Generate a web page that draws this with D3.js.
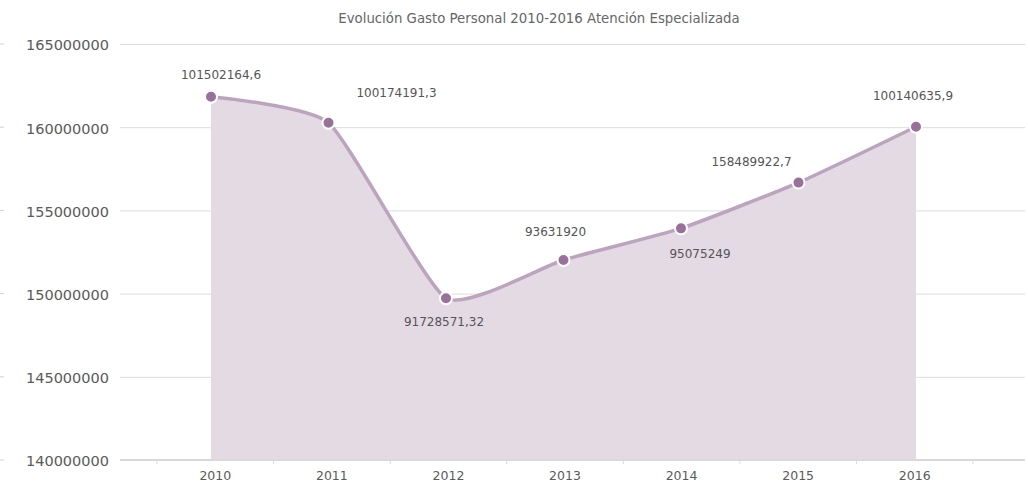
<!DOCTYPE html>
<html>
<head>
<meta charset="utf-8">
<script src="https://cdn.jsdelivr.net/npm/d3@7"></script>
<style>
  body { margin: 0; background: #fff; }
  svg { display: block; }
  text { font-family: "DejaVu Sans", sans-serif; }
</style>
</head>
<body>
<svg id="chart" width="1028" height="484"></svg>
<script>
// Gasto de personal, Atención Especializada
const years = ["2010", "2011", "2012", "2013", "2014", "2015", "2016"];
const gasto = [161830000, 160270000, 149720000, 152020000, 153920000, 156670000, 160030000];
const pointLabels = ["101502164,6", "100174191,3", "91728571,32", "93631920", "95075249", "158489922,7", "100140635,9"];
const yTicks = [140000000, 145000000, 150000000, 155000000, 160000000, 165000000];
const chartTitle = "Evolución Gasto Personal 2010-2016 Atención Especializada";

// where each value label sits relative to its marker: [dx, dy to baseline]
const labelPlacement = [[10, -18], [68, -26], [-2, 28], [-8, -24], [19, 30], [-47, -17], [-3, -27]];

const svg = d3.select("#chart");
const plotLeft = 120, plotRight = 1025, plotTop = 44, plotBottom = 460;

const x = d3.scalePoint().domain(years).range([211, 916]);
const xBand = d3.scaleBand().domain(years).range([157, 973]);
const y = d3.scaleLinear().domain([140000000, 165000000]).range([plotBottom, plotTop]);

// title
svg.append("text")
  .attr("x", 539).attr("y", 22.5)
  .attr("text-anchor", "middle")
  .attr("font-size", 13.3)
  .attr("fill", "#666")
  .text(chartTitle);

// y axis with gridlines
const yAxis = svg.append("g")
  .attr("transform", `translate(${plotLeft},0)`)
  .call(d3.axisLeft(y).tickValues(yTicks).tickSize(-(plotRight - plotLeft)).tickPadding(11).tickFormat(d3.format("d")));
yAxis.select(".domain").remove();
yAxis.selectAll(".tick line").attr("stroke", "#dcdcdc").attr("stroke-width", 1);
yAxis.selectAll(".tick text")
  .attr("font-size", 14.5)
  .attr("fill", "#5a5a5a")
  .attr("dy", "0.4em")
  .style("font-family", "'DejaVu Sans', sans-serif");

// short marks at the far left edge
svg.append("g").selectAll("line").data(yTicks).join("line")
  .attr("x1", 0).attr("x2", 4)
  .attr("y1", d => y(d)).attr("y2", d => y(d))
  .attr("stroke", "#cfcfcf");

// area + line
const curve = d3.curveCardinal.tension(0.5);
const area = d3.area()
  .x((d, i) => x(years[i]))
  .y0(y(140000000))
  .y1(d => y(d))
  .curve(curve);
const line = d3.line()
  .x((d, i) => x(years[i]))
  .y(d => y(d))
  .curve(curve);

svg.append("path").datum(gasto)
  .attr("d", area)
  .attr("fill", "#e4dae4");

svg.append("path").datum(gasto)
  .attr("d", line)
  .attr("fill", "none")
  .attr("stroke", "#bca3be")
  .attr("stroke-width", 3.5);

// x axis
const xAxis = svg.append("g")
  .attr("transform", `translate(0,${plotBottom})`)
  .call(d3.axisBottom(xBand).tickSize(0).tickPadding(11));
xAxis.select(".domain").remove();
xAxis.selectAll(".tick text")
  .attr("font-size", 12.5)
  .attr("fill", "#5a5a5a")
  .attr("dy", "0.71em")
  .style("font-family", "'DejaVu Sans', sans-serif");

svg.append("line")
  .attr("x1", plotLeft).attr("x2", plotRight)
  .attr("y1", plotBottom).attr("y2", plotBottom)
  .attr("stroke", "#d9d9d9").attr("stroke-width", 2);

const bounds = years.map(c => xBand(c)).concat([xBand(years[years.length - 1]) + xBand.bandwidth()]);
svg.append("g").selectAll("line").data(bounds).join("line")
  .attr("x1", d => d).attr("x2", d => d)
  .attr("y1", plotBottom).attr("y2", plotBottom + 4)
  .attr("stroke", "#d9d9d9");

// markers
svg.append("g").selectAll("circle").data(gasto).join("circle")
  .attr("cx", (d, i) => x(years[i]))
  .attr("cy", d => y(d))
  .attr("r", 6)
  .attr("fill", "#98709a")
  .attr("stroke", "#fff")
  .attr("stroke-width", 2);

// value labels
svg.append("g").selectAll("text").data(gasto).join("text")
  .attr("x", (d, i) => x(years[i]) + labelPlacement[i][0])
  .attr("y", (d, i) => y(d) + labelPlacement[i][1])
  .attr("text-anchor", "middle")
  .attr("font-size", 12)
  .attr("fill", "#555")
  .text((d, i) => pointLabels[i]);
</script>
</body>
</html>
